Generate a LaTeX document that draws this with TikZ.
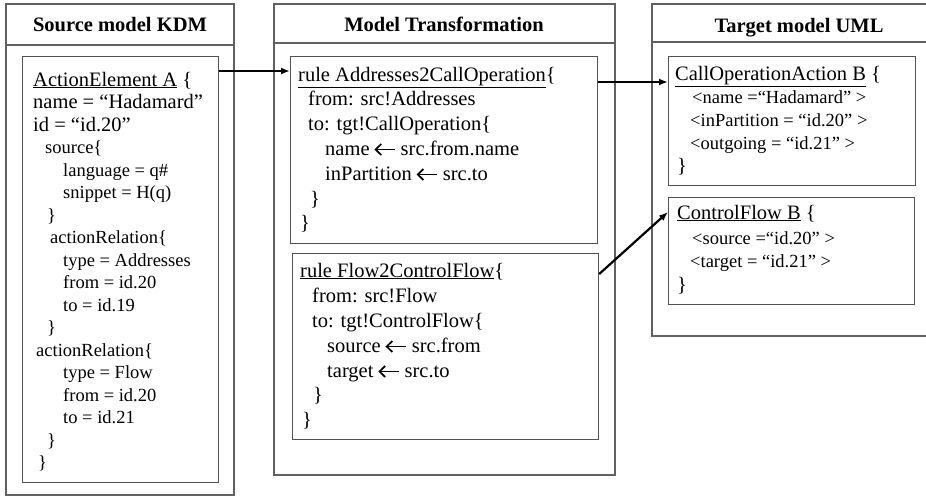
\documentclass[tikz,border=0pt]{standalone}
\usepackage{fontspec}
\setmainfont{Liberation Serif}
\usetikzlibrary{calc,arrows.meta}

% bold assignment arrow used inside the rules
\newcommand{\assignarrow}{\tikz[baseline=-5.5pt]{%
  \draw[line width=1.7pt, line cap=butt] (1pt,0pt) -- (20pt,0pt);
  \draw[line width=1.7pt, line join=miter] (6.5pt,5.5pt) -- (0.8pt,0pt) -- (6.5pt,-5.5pt);}}

\begin{document}
\begin{tikzpicture}[x=1pt,y=-1pt,
  panel/.style={draw=black!62, line width=1.4pt},
  card/.style={draw=black!68, line width=1.2pt, rectangle, inner sep=0pt, anchor=north west},
  big/.style={anchor=base west, inner sep=0pt, font=\fontsize{20.5}{22}\selectfont},
  small/.style={anchor=base west, inner sep=0pt, font=\fontsize{18.5}{20}\selectfont},
  head/.style={anchor=base, inner sep=0pt, font=\fontsize{20.5}{24}\selectfont\bfseries},
  link/.style={-{Latex[length=9pt,width=7pt]}, line width=2.2pt},
]
\clip (0,0) rectangle (926,496);
\path[use as bounding box] (0,0) rectangle (926,496);

% column frames with their title rows
\draw[panel] (6,4) rectangle (234,495);
\draw[panel] (6,45) -- (234,45);
\draw[panel] (274,4) rectangle (615,475);
\draw[panel] (274,43) -- (615,43);
\draw[panel] (652,4) rectangle (946,336);
\draw[panel] (652,42) -- (946,42);

\node[head] (hsrc) at (120,31) {Source model KDM};
\node[head] (htr)  at (444,31) {Model Transformation};
\node[head] (htgt) at (799,32) {Target model UML};

% model element cards
\node[card, minimum width=196pt, minimum height=426pt] (kdm) at (22,56) {};
\node[card, minimum width=307pt, minimum height=187pt] (r1) at (290,56) {};
\node[card, minimum width=306pt, minimum height=186pt] (r2) at (292,253) {};
\node[card, minimum width=247pt, minimum height=129pt] (coa) at (668,56) {};
\node[card, minimum width=246pt, minimum height=107pt] (cf) at (668,197) {};

% KDM source element
\node[big]   (k1)  at (33,86)    {\underline{ActionElement A} \{};
\node[big]   (k2)  at (33,108.5) {name = “Hadamard”};
\node[big]   (k3)  at (33,131)   {id = “id.20”};
\node[small] (k4)  at (45,153.5) {source\{};
\node[small] (k5)  at (63,176)   {language = q\#};
\node[small] (k6)  at (63,198.5) {snippet = H(q)};
\node[small] (k7)  at (47,221)   {\}};
\node[small] (k8)  at (50,243.5) {actionRelation\{};
\node[small] (k9)  at (63,266)   {type = Addresses};
\node[small] (k10) at (63,288.5) {from = id.20};
\node[small] (k11) at (63,311)   {to = id.19};
\node[small] (k12) at (47,333.5) {\}};
\node[small] (k13) at (36,356)   {actionRelation\{};
\node[small] (k14) at (63,378.5) {type = Flow};
\node[small] (k15) at (63,401)   {from = id.20};
\node[small] (k16) at (63,423.5) {to = id.21};
\node[small] (k17) at (47,446)   {\}};
\node[small] (k18) at (38,468.5) {\}};

% transformation rules
\node[big] (a1) at (298,81)    {\underline{rule Addresses2CallOperation}\{};
\node[big] (a2) at (308,105.7) {from: src!Addresses};
\node[big] (a3) at (308,130.4) {to: tgt!CallOperation\{};
\node[big] (a4) at (325,155)   {name \assignarrow{} src.from.name};
\node[big] (a5) at (325,180)   {inPartition \assignarrow{} src.to};
\node[big] (a6) at (310,205)   {\}};
\node[big] (a7) at (300,229)   {\}};

\node[big] (b1) at (300,277) {\underline{rule Flow2ControlFlow}\{};
\node[big] (b2) at (312,302) {from: src!Flow};
\node[big] (b3) at (312,327) {to: tgt!ControlFlow\{};
\node[big] (b4) at (327,352) {source \assignarrow{} src.from};
\node[big] (b5) at (327,377) {target \assignarrow{} src.to};
\node[big] (b6) at (313,401) {\}};
\node[big] (b7) at (302,426) {\}};

% UML target elements
\node[big]   (c1) at (675,80)  {\underline{CallOperationAction B} \{};
\node[small] (c2) at (692,103) {<name =“Hadamard” >};
\node[small] (c3) at (690,126) {<inPartition = “id.20” >};
\node[small] (c4) at (690,149) {<outgoing = “id.21” >};
\node[big]   (c5) at (677,172) {\}};

\node[big]   (d1) at (677,219) {\underline{ControlFlow B} \{};
\node[small] (d2) at (692,244) {<source =“id.20” >};
\node[small] (d3) at (690,267) {<target = “id.21” >};
\node[big]   (d4) at (677,291) {\}};

% mappings
\draw[link] ($(kdm.north east)+(0,15)$) -- ($(r1.north west)+(0,15)$);
\draw[link] ($(r1.north east)+(0,26)$) -- ($(coa.north west)+(0,26)$);
\draw[link] ($(r2.north east)+(0,21)$) -- ($(cf.north west)+(0,15)$);
\end{tikzpicture}
\end{document}
